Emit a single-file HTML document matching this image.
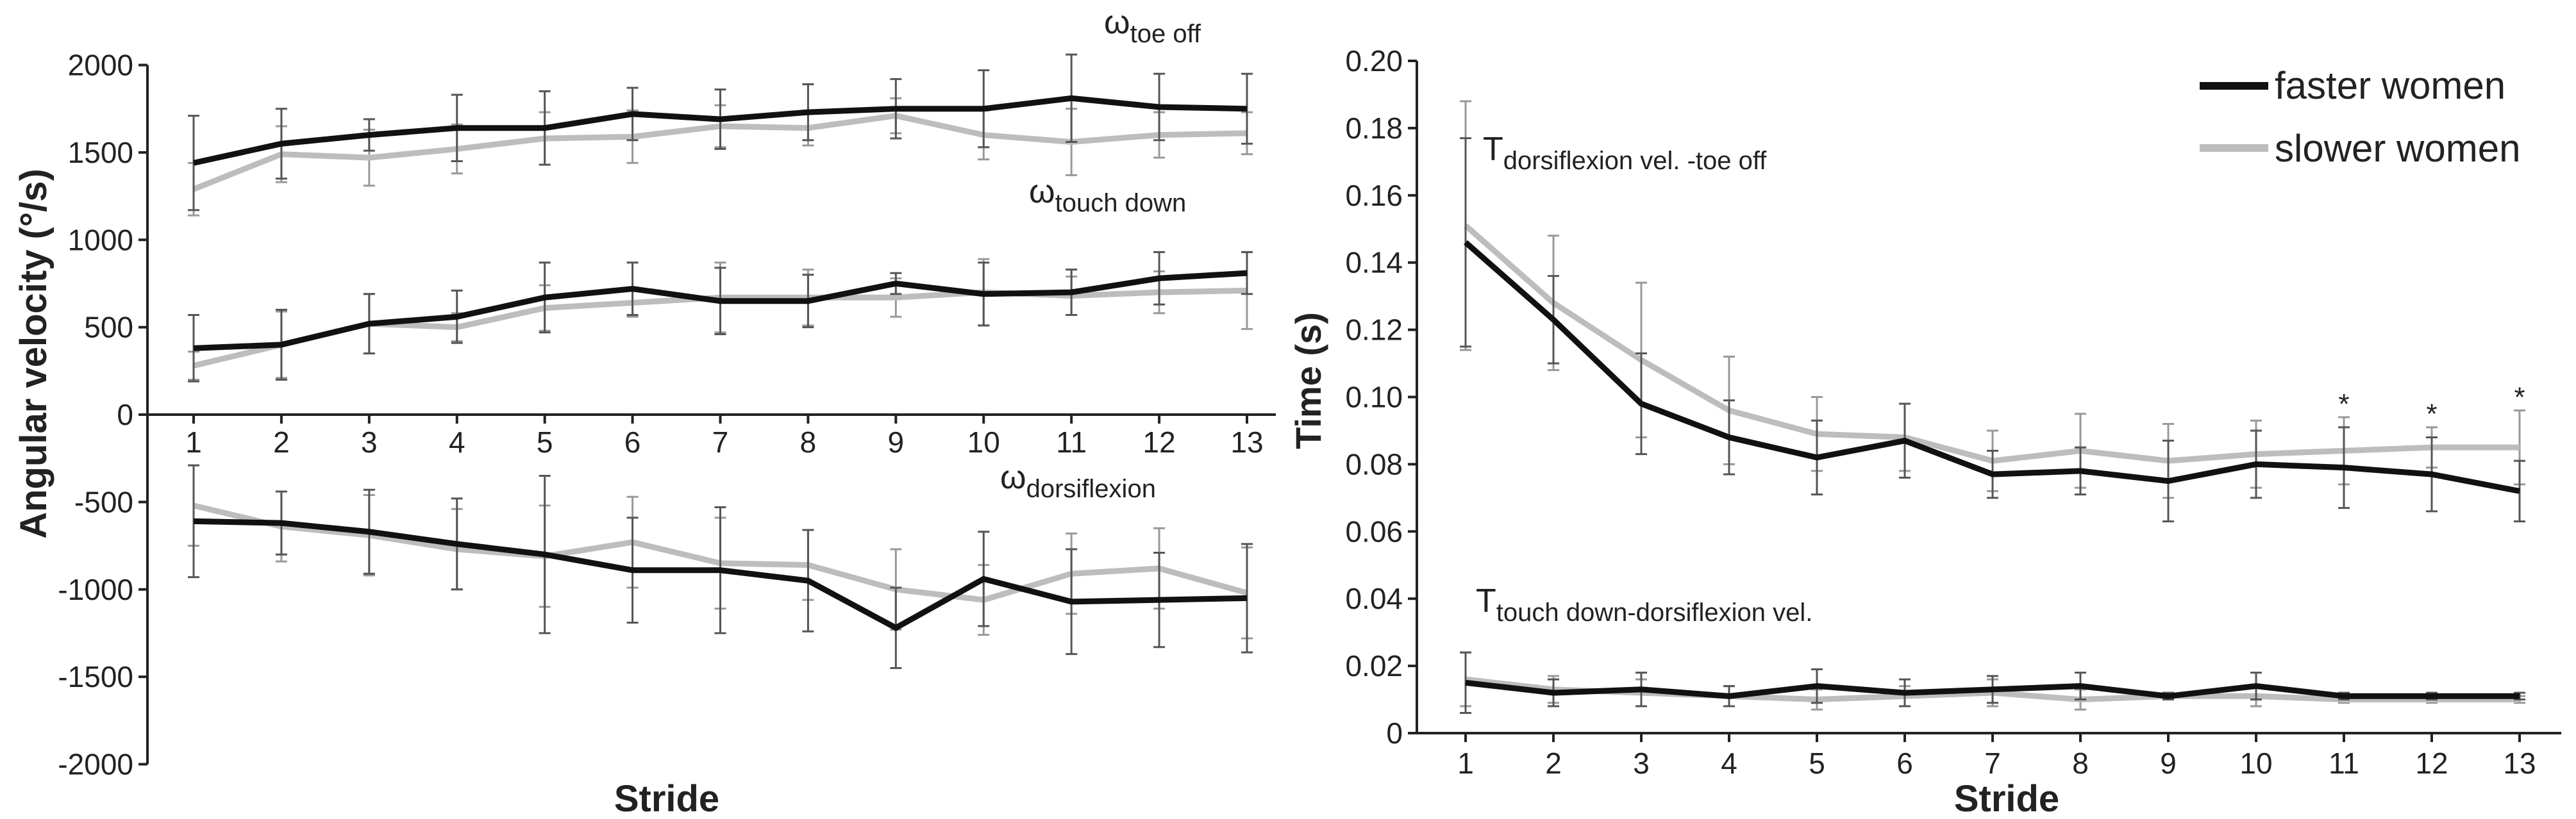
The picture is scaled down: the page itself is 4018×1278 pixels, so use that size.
<!DOCTYPE html>
<html><head><meta charset="utf-8"><style>
html,body{margin:0;padding:0;background:#fff;}
svg{display:block;}
text{font-family:"Liberation Sans Narrow","Liberation Sans",sans-serif;fill:#222;}
.b{font-family:"Liberation Sans",sans-serif;font-weight:bold;}
</style></head><body>
<svg id="chart" width="4018" height="1278" viewBox="0 0 4018 1278" xmlns="http://www.w3.org/2000/svg"></svg>
<script>
const strides = [1,2,3,4,5,6,7,8,9,10,11,12,13];
const leftTicks = [2000,1500,1000,500,0,-500,-1000,-1500,-2000];
const rightTicks = [0.20,0.18,0.16,0.14,0.12,0.10,0.08,0.06,0.04,0.02,0];
const toeOffFast = [1440,1550,1600,1640,1640,1720,1690,1730,1750,1750,1810,1760,1750];
const toeOffSlow = [1290,1490,1470,1520,1580,1590,1650,1640,1710,1600,1560,1600,1610];
const toeOffFastSd = [270,200,90,190,210,150,170,160,170,220,250,190,200];
const toeOffSlowSd = [150,160,160,140,150,150,120,100,100,140,190,130,120];
const touchFast = [380,400,520,560,670,720,650,650,750,690,700,780,810];
const touchSlow = [280,400,520,500,610,640,670,670,670,700,680,700,710];
const touchFastSd = [190,200,170,150,200,150,190,150,60,180,130,150,120];
const touchSlowSd = [80,190,170,80,130,80,200,160,110,190,110,120,220];
const dorsiFast = [-610,-620,-670,-740,-800,-890,-890,-950,-1220,-940,-1070,-1060,-1050];
const dorsiSlow = [-520,-640,-690,-770,-810,-730,-850,-860,-1000,-1060,-910,-880,-1020];
const dorsiFastSd = [320,180,240,260,450,300,360,290,230,270,300,270,310];
const dorsiSlowSd = [230,200,230,230,290,260,260,200,230,200,230,230,260];
const tDorsiFast = [0.146,0.123,0.098,0.088,0.082,0.087,0.077,0.078,0.075,0.080,0.079,0.077,0.072];
const tDorsiSlow = [0.151,0.128,0.111,0.096,0.089,0.088,0.081,0.084,0.081,0.083,0.084,0.085,0.085];
const tDorsiFastSd = [0.031,0.013,0.015,0.011,0.011,0.011,0.007,0.007,0.012,0.010,0.012,0.011,0.009];
const tDorsiSlowSd = [0.037,0.020,0.023,0.016,0.011,0.010,0.009,0.011,0.011,0.010,0.010,0.006,0.011];
const tTouchFast = [0.015,0.012,0.013,0.011,0.014,0.012,0.013,0.014,0.011,0.014,0.011,0.011,0.011];
const tTouchSlow = [0.016,0.013,0.012,0.011,0.010,0.011,0.012,0.010,0.011,0.011,0.010,0.010,0.010];
const tTouchFastSd = [0.009,0.004,0.005,0.003,0.005,0.004,0.004,0.004,0.001,0.004,0.001,0.001,0.001];
const tTouchSlowSd = [0.008,0.004,0.004,0.003,0.003,0.003,0.004,0.003,0.001,0.003,0.001,0.001,0.001];
const starStrides = [11,12,13];

const svg = document.getElementById('chart');
const NS = 'http://www.w3.org/2000/svg';
function el(tag, attrs, parent){const e=document.createElementNS(NS,tag);for(const k in attrs)e.setAttribute(k,attrs[k]);(parent||svg).appendChild(e);return e;}
function txt(s, attrs, name){const t=el('text',attrs);t.textContent=s;
 
 
 return t;}

const lx = s => 302 + (s-1)*(1945-302)/12;
const ly = v => 647 - v*(1193-102)/4000;
const rx = s => 2286 + (s-1)*(3930-2286)/12;
const ry = v => 1144 - v*(1144-95)/0.2;

function drawAxes(xf, yf, ticks, fmt, axisX, zeroY, xEnd, labelY, prefix){
  const g = el('g',{});
  
  
  el('line',{x1:axisX,y1:yf(ticks[0]),x2:axisX,y2:yf(ticks[ticks.length-1]),stroke:'#222','stroke-width':4},g);
  ticks.forEach(t=>{
    el('line',{x1:axisX-14,y1:yf(t),x2:axisX,y2:yf(t),stroke:'#222','stroke-width':4},g);
    txt(fmt(t),{x:axisX-22,y:yf(t)+16,'font-size':46,'text-anchor':'end'}, prefix+'-y-tick-label');
  });
  el('line',{x1:axisX-10,y1:zeroY,x2:xEnd,y2:zeroY,stroke:'#222','stroke-width':4},g);
  strides.forEach(s=>{
    el('line',{x1:xf(s),y1:zeroY,x2:xf(s),y2:zeroY+14,stroke:'#222','stroke-width':4},g);
    txt(String(s),{x:xf(s),y:labelY,'font-size':46,'text-anchor':'middle'}, prefix+'-x-tick-label');
  });
}
drawAxes(lx, ly, leftTicks, v=>String(v), 230, ly(0), 1990, 706, 'left');
drawAxes(rx, ry, rightTicks, v=>v===0?'0':v.toFixed(2), 2210, ry(0), 3995, 1207, 'right');

function series(xf, yf, vals, sds, color, errColor, name){
  const g = el('g',{});
  
  
  vals.forEach((v,i)=>{
    const x=xf(strides[i]), y1=yf(v+sds[i]), y2=yf(v-sds[i]);
    el('line',{x1:x,y1:y1,x2:x,y2:y2,stroke:errColor,'stroke-width':3},g);
    el('line',{x1:x-9,y1:y1,x2:x+9,y2:y1,stroke:errColor,'stroke-width':3},g);
    el('line',{x1:x-9,y1:y2,x2:x+9,y2:y2,stroke:errColor,'stroke-width':3},g);
  });
  const pts = vals.map((v,i)=>xf(strides[i])+','+yf(v)).join(' ');
  const p = el('polyline',{points:pts,fill:'none',stroke:color,'stroke-width':9,'stroke-linejoin':'miter'},g);
  
  
}
const GRAY='#bdbdbd', BLACK='#111';
series(lx,ly,toeOffSlow,toeOffSlowSd,GRAY,'#999','toe-off-slower');
series(lx,ly,toeOffFast,toeOffFastSd,BLACK,'#555','toe-off-faster');
series(lx,ly,touchSlow,touchSlowSd,GRAY,'#999','touch-down-slower');
series(lx,ly,touchFast,touchFastSd,BLACK,'#555','touch-down-faster');
series(lx,ly,dorsiSlow,dorsiSlowSd,GRAY,'#999','dorsiflexion-slower');
series(lx,ly,dorsiFast,dorsiFastSd,BLACK,'#555','dorsiflexion-faster');
series(rx,ry,tDorsiSlow,tDorsiSlowSd,GRAY,'#999','t-dorsi-slower');
series(rx,ry,tDorsiFast,tDorsiFastSd,BLACK,'#555','t-dorsi-faster');
series(rx,ry,tTouchSlow,tTouchSlowSd,GRAY,'#999','t-touch-slower');
series(rx,ry,tTouchFast,tTouchFastSd,BLACK,'#555','t-touch-faster');

starStrides.forEach(s=>{
  const i=strides.indexOf(s);
  const top=Math.max(tDorsiFast[i]+tDorsiFastSd[i], tDorsiSlow[i]+tDorsiSlowSd[i]);
  txt('*',{x:rx(s),y:ry(top)-6,'font-size':44,'text-anchor':'middle'},'significance-star');
});

txt('Angular velocity (°/s)',{x:0,y:0,'font-size':58,'text-anchor':'middle',class:'b',transform:'translate(72,552) rotate(-90)'},'left-y-axis-title');
txt('Stride',{x:1040,y:1266,'font-size':58,'text-anchor':'middle',class:'b'},'left-x-axis-title');
txt('Time (s)',{x:0,y:0,'font-size':56,'text-anchor':'middle',class:'b',transform:'translate(2060,594) rotate(-90)'},'right-y-axis-title');
txt('Stride',{x:3130,y:1266,'font-size':58,'text-anchor':'middle',class:'b'},'right-x-axis-title');

function ann(x,y,main,sub,name){
  const t=el('text',{x:x,y:y,'font-size':52});
  
  
  const a=el('tspan',{},t); a.textContent=main;
  const b=el('tspan',{dy:14,'font-size':40},t); b.textContent=sub;
}
ann(1722,52,'ω','toe off','label-omega-toe-off');
ann(1605,316,'ω','touch down','label-omega-touch-down');
ann(1560,762,'ω','dorsiflexion','label-omega-dorsiflexion');
ann(2313,250,'T','dorsiflexion  vel. -toe off','label-t-dorsiflexion-toe-off');
ann(2302,955,'T','touch down-dorsiflexion  vel.','label-t-touch-down-dorsiflexion');

const lg=el('g',{});


el('line',{x1:3431,y1:134,x2:3538,y2:134,stroke:BLACK,'stroke-width':12},lg);
el('line',{x1:3431,y1:231,x2:3538,y2:231,stroke:GRAY,'stroke-width':12},lg);
txt('faster women',{x:3548,y:154,'font-size':60},'legend-faster-women');
txt('slower women',{x:3548,y:252,'font-size':60},'legend-slower-women');
</script>
</body></html>
